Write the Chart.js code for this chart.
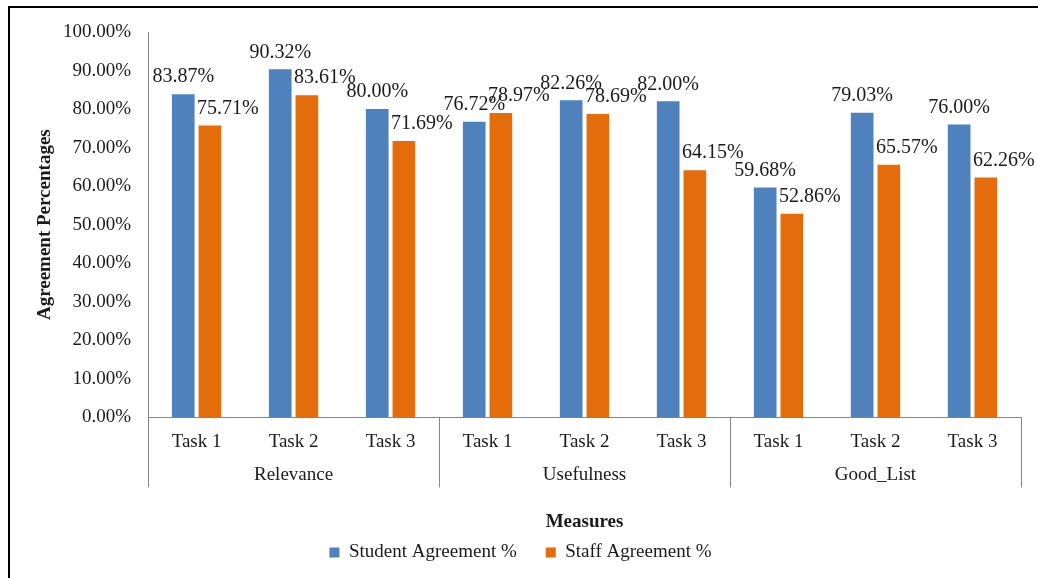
<!DOCTYPE html>
<html>
<head>
<meta charset="utf-8">
<script src="https://cdn.jsdelivr.net/npm/chart.js@4.4.1/dist/chart.umd.min.js"></script>
<style>
  html, body { margin: 0; padding: 0; background: #fff; }
  #wrap { position: relative; width: 1038px; height: 578px; }
  #wrap canvas { position: absolute; left: 0; top: 0; }
  #frame { position: absolute; left: 8px; top: 6px; right: 0; bottom: 0;
           border-left: 2px solid #000; border-top: 2px solid #000; pointer-events: none; }
</style>
</head>
<body>
<div id="wrap">
  <canvas id="chart" width="1038" height="578"></canvas>
  <div id="frame"></div>
</div>
<script>
const tasks = ['Task 1', 'Task 2', 'Task 3'];
const groups = ['Relevance', 'Usefulness', 'Good_List'];
const studentAgreement = [83.87, 90.32, 80.00, 76.72, 82.26, 82.00, 59.68, 79.03, 76.00];
const staffAgreement = [75.71, 83.61, 71.69, 78.97, 78.69, 64.15, 52.86, 65.57, 62.26];
const yTickValues = [0, 10, 20, 30, 40, 50, 60, 70, 80, 90, 100];

const FONT = "'Liberation Serif', 'Times New Roman', serif";
const TEXT = '#1a1a1a';
const AXIS = '#868686';

Chart.defaults.font.family = FONT;
Chart.defaults.font.size = 19;
Chart.defaults.color = TEXT;

// two line labels: task on top, group name under the middle task
const labels = [];
groups.forEach(g => {
    tasks.forEach((t, i) => labels.push([t, i === 1 ? g : '']));
});

// values printed over the bars
const barLabels = {
    id: 'barLabels',
    afterDatasetsDraw(chart) {
        const ctx = chart.ctx;
        ctx.save();
        ctx.font = '20px ' + FONT;
        ctx.fillStyle = TEXT;
        ctx.textAlign = 'center';
        ctx.textBaseline = 'middle';
        chart.data.datasets.forEach((ds, di) => {
            const meta = chart.getDatasetMeta(di);
            meta.data.forEach((bar, i) => {
                const dx = di === 1 ? 18 : 0;
                ctx.fillText(ds.data[i].toFixed(2) + '%', bar.x + dx, bar.y - 17);
            });
        });
        ctx.restore();
    }
};

// vertical separators between the groups, below the x axis
const groupLines = {
    id: 'groupLines',
    afterDraw(chart) {
        const x = chart.scales.x;
        const ctx = chart.ctx;
        ctx.save();
        ctx.strokeStyle = AXIS;
        ctx.lineWidth = 1;
        for (let k = 0; k <= groups.length; k++) {
            const px = Math.round(x.getPixelForValue(k * tasks.length - 0.5)) + 0.5;
            ctx.beginPath();
            ctx.moveTo(px, x.top);
            ctx.lineTo(px, x.top + 70);
            ctx.stroke();
        }
        ctx.restore();
    }
};

new Chart(document.getElementById('chart'), {
    type: 'bar',
    data: {
        labels: labels,
        datasets: [{
            label: 'Student Agreement %',
            data: studentAgreement,
            backgroundColor: '#4f81bd',
            categoryPercentage: 0.55,
            barPercentage: 0.85
        }, {
            label: 'Staff Agreement %',
            data: staffAgreement,
            backgroundColor: '#e46c0a',
            categoryPercentage: 0.55,
            barPercentage: 0.85
        }]
    },
    options: {
        responsive: false,
        animation: false,
        layout: { padding: { left: 20, right: 17, top: 32, bottom: 6 } },
        plugins: {
            tooltip: { enabled: false },
            legend: {
                position: 'bottom',
                labels: { boxWidth: 10, boxHeight: 10, padding: 29, color: TEXT, font: { size: 19 } }
            }
        },
        scales: {
            x: {
                offset: true,
                grid: { display: false, drawTicks: false },
                border: { display: true, color: AXIS },
                ticks: { autoSkip: false, maxRotation: 0, padding: 8.5, font: { size: 19, lineHeight: 1.74 } },
                title: { display: true, text: 'Measures', font: { size: 19, weight: 'bold' }, padding: { top: 10.6, bottom: -19.9 } }
            },
            y: {
                min: 0,
                max: 100,
                afterBuildTicks: s => { s.ticks = yTickValues.map(v => ({ value: v })); },
                grid: { display: false, drawTicks: false },
                border: { display: true, color: AXIS },
                ticks: { padding: 17, callback: v => v.toFixed(2) + '%' },
                title: { display: true, text: 'Agreement Percentages', font: { size: 19, weight: 'bold' }, padding: { top: 13.6, bottom: -10.4 } }
            }
        }
    },
    plugins: [barLabels, groupLines]
});
</script>
</body>
</html>
